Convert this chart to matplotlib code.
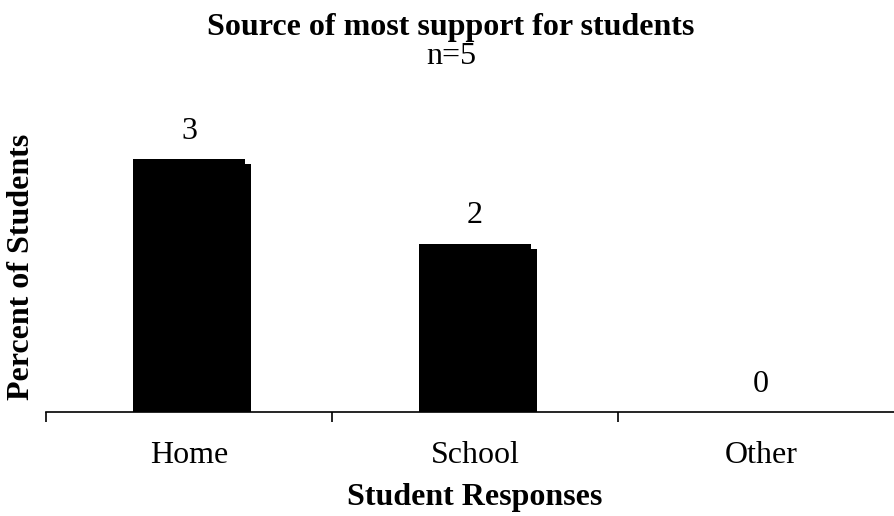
import matplotlib
matplotlib.use("Agg")
import matplotlib.pyplot as plt
import matplotlib.transforms as mtransforms

categories = ["Home", "School", "Other"]
counts = [3, 2, 0]
title = "Source of most support for students"
subtitle = "n=5"

plt.rcParams["font.family"] = ["Liberation Serif", "DejaVu Serif"]

W, H = 894, 516
fig = plt.figure(figsize=(W / 100, H / 100), dpi=100)
ax = fig.add_axes([46 / W, 104 / H, 858 / W, 3.5 * 84.2 / H])

x = range(len(categories))
bar_w = 0.395

# shadow bars, shifted a few pixels right and down
shadow = mtransforms.offset_copy(ax.transData, fig=fig, x=6, y=-5, units="dots")
ax.bar(x, counts, width=bar_w, color="black", transform=shadow, zorder=1)
ax.bar(x, counts, width=bar_w, color="black", zorder=2)

for xi, v in zip(x, counts):
    ax.annotate(str(v), (xi, v), xytext=(0, 20), textcoords="offset points",
                ha="center", va="center", fontsize=23)

ax.set_xlim(-0.5, len(categories) - 0.5)
ax.set_ylim(0, 3.5)
ax.set_yticks([])
for s in ["top", "right", "left"]:
    ax.spines[s].set_visible(False)
ax.spines["bottom"].set_linewidth(1.2)

ax.set_xticks(list(x))
ax.set_xticklabels(categories, fontsize=23)
ax.tick_params(axis="x", which="major", length=0, pad=21)
ax.set_xticks([-0.5, 0.5, 1.5, 2.5], minor=True)
ax.tick_params(axis="x", which="minor", length=7, width=1.2)

fig.text(451 / W, 1 - 27 / H, title,
         ha="center", va="center", fontsize=23, fontweight="bold")
fig.text(451 / W, 1 - 57 / H, subtitle, ha="center", va="center", fontsize=23)
fig.text(475 / W, 1 - 497 / H, "Student Responses", ha="center", va="center",
         fontsize=23, fontweight="bold")
fig.text(22 / W, 1 - 267 / H, "Percent of Students", ha="center", va="center",
         rotation=90, fontsize=23, fontweight="bold")

fig.savefig("out.png", dpi=100)
